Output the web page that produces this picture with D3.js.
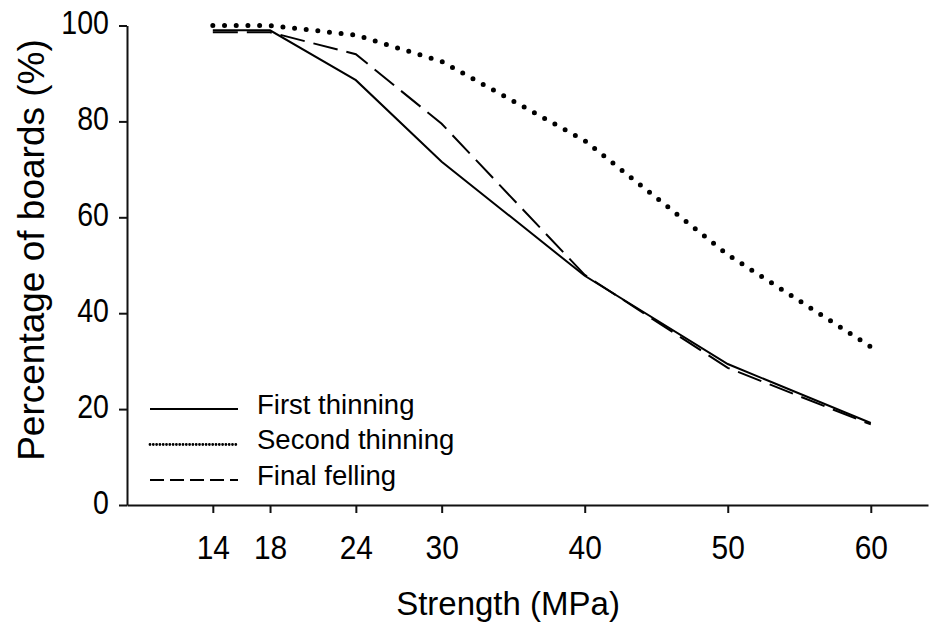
<!DOCTYPE html>
<html>
<head>
<meta charset="utf-8">
<script src="https://cdn.jsdelivr.net/npm/d3@7"></script>
<style>
	body { margin: 0; background: #fff; }
	svg { display: block; font-family: "Liberation Sans", Arial, sans-serif; }
</style>
</head>
<body>
<div id="chart"></div>
<script>

// strength classes (MPa) and share of boards reaching them (%)
var strength       = [14, 18, 24, 30, 40, 50, 60];
var firstThinning  = [99, 99, 88.6, 71.6, 47.8, 29.4, 17.1];
var secondThinning = [100, 100, 98, 92.5, 76, 52.2, 33];
var finalFelling   = [98.6, 98.6, 94, 79.5, 48, 28.6, 16.8];

var yTicks = [0, 20, 40, 60, 80, 100];

var seriesNames = ["First thinning", "Second thinning", "Final felling"];

var width = 932, height = 628;

var svg = d3.select("#chart")
	.append("svg")
	.attr("width", width)
	.attr("height", height);

var x = d3.scaleLinear().domain([8, 64]).range([127, 928]);
var y = d3.scaleLinear().domain([0, 100]).range([505, 25.5]);

// axes
var xAxis = svg.append("g")
	.attr("transform", "translate(0," + y(0) + ")")
	.call(d3.axisBottom(x).tickValues(strength).tickSize(8).tickSizeOuter(0).tickPadding(22));

var yAxis = svg.append("g")
	.attr("transform", "translate(" + x(8) + ",0)")
	.call(d3.axisLeft(y).tickValues(yTicks).tickSize(8).tickSizeOuter(0));

svg.selectAll(".domain, .tick line")
	.attr("stroke", "#111")
	.attr("stroke-width", 2);

// the labels in the figure are a bit condensed
xAxis.selectAll(".tick text")
	.attr("font-size", 34)
	.attr("fill", "#000")
	.attr("transform", "scale(0.88,1)");

yAxis.selectAll(".tick text")
	.attr("font-size", 34)
	.attr("fill", "#000")
	.attr("x", 0)
	.attr("dy", "0.24em")
	.attr("transform", "translate(-18,0) scale(0.84,1)");

// axis titles
svg.append("text")
	.attr("x", 508)
	.attr("y", 615)
	.attr("text-anchor", "middle")
	.attr("font-size", 33)
	.text("Strength (MPa)");

svg.append("text")
	.attr("transform", "translate(44,250) rotate(-90)")
	.attr("text-anchor", "middle")
	.attr("font-size", 37)
	.text("Percentage of boards (%)");

// lines
var styles = [
	{ values: firstThinning,  dash: null,     width: 2,   cap: "butt" },
	{ values: secondThinning, dash: "0 11.7", width: 5,   cap: "round" },
	{ values: finalFelling,   dash: "25 9",   width: 2,   cap: "butt" }
];

var line = d3.line()
	.x(function(d) { return x(d[0]); })
	.y(function(d) { return y(d[1]); });

styles.forEach(function(s) {
	var pts = strength.map(function(v, i) { return [v, s.values[i]]; });
	svg.append("path")
		.datum(pts)
		.attr("d", line)
		.attr("fill", "none")
		.attr("stroke", "#000")
		.attr("stroke-width", s.width)
		.attr("stroke-linecap", s.cap)
		.attr("stroke-dasharray", s.dash);
});

// legend
var legendSamples = [
	{ dash: null,    width: 2,   cap: "butt" },
	{ dash: "0 3.3", width: 2.8, cap: "round" },
	{ dash: "14 6",  width: 2,   cap: "butt" }
];

var legend = svg.append("g");

seriesNames.forEach(function(name, i) {
	var ly = 409 + i * 35.5;
	legend.append("line")
		.attr("x1", 150)
		.attr("x2", 238)
		.attr("y1", ly)
		.attr("y2", ly)
		.attr("stroke", "#000")
		.attr("stroke-width", legendSamples[i].width)
		.attr("stroke-linecap", legendSamples[i].cap)
		.attr("stroke-dasharray", legendSamples[i].dash);

	legend.append("text")
		.attr("x", 257)
		.attr("y", ly + 4.5)
		.attr("font-size", 27.5)
		.text(name);
});

</script>
</body>
</html>
